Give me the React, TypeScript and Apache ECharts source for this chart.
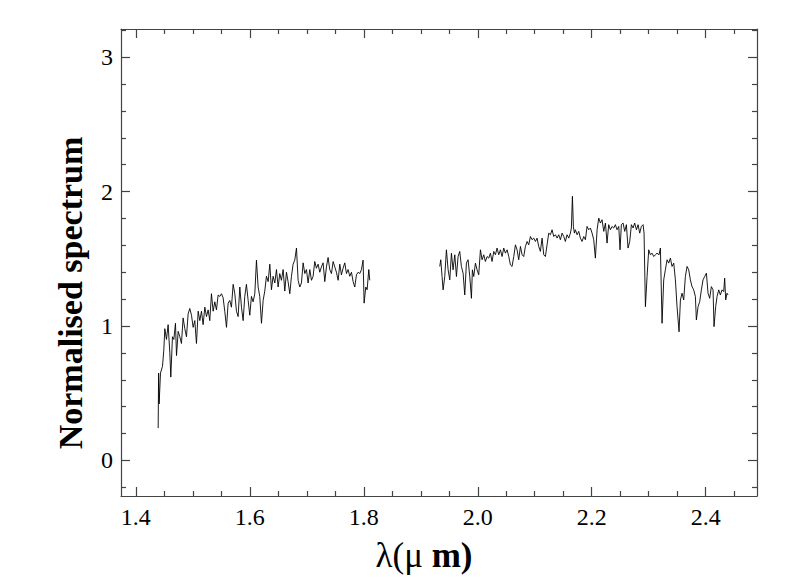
import React, { useEffect, useRef } from "react";
import * as echarts from "echarts";

const X_MIN = 1.374;
const X_MAX = 2.49;
const Y_MIN = -0.265;
const Y_MAX = 3.21;

const xMajor = [1.4, 1.6, 1.8, 2.0, 2.2, 2.4];
const xMinor = [1.45, 1.5, 1.55, 1.65, 1.7, 1.75, 1.85, 1.9, 1.95, 2.05, 2.1, 2.15, 2.25, 2.3, 2.35, 2.45];
const yMajor = [0, 1, 2, 3];
const yMinor = [-0.2, 0.2, 0.4, 0.6, 0.8, 1.2, 1.4, 1.6, 1.8, 2.2, 2.4, 2.6, 2.8, 3.2];

// Segment 1 (H band)
const wave1 = [
  1.4392, 1.4400, 1.4409, 1.4433, 1.4468, 1.4491, 1.4509, 1.4538, 1.4567, 1.4597,
  1.4614, 1.4643, 1.4667, 1.4696, 1.4714, 1.4743, 1.4772, 1.4801, 1.4830, 1.4860,
  1.4889, 1.4918, 1.4947, 1.4977, 1.5006, 1.5035, 1.5064, 1.5094, 1.5123, 1.5152,
  1.5181, 1.5211, 1.5240, 1.5269, 1.5298, 1.5327, 1.5357, 1.5386, 1.5415, 1.5444,
  1.5474, 1.5503, 1.5532, 1.5561, 1.5591, 1.5620, 1.5649, 1.5678, 1.5708, 1.5737,
  1.5766, 1.5795, 1.5825, 1.5854, 1.5883, 1.5912, 1.5941, 1.5971, 1.6000, 1.6029,
  1.6058, 1.6088, 1.6117, 1.6146, 1.6175, 1.6205, 1.6234, 1.6263, 1.6292, 1.6322,
  1.6351, 1.6380, 1.6409, 1.6439, 1.6468, 1.6497, 1.6526, 1.6555, 1.6585, 1.6614,
  1.6643, 1.6672, 1.6702, 1.6731, 1.6760, 1.6789, 1.6819, 1.6848, 1.6877, 1.6906,
  1.6936, 1.6965, 1.6994, 1.7023, 1.7053, 1.7082, 1.7111, 1.7140, 1.7169, 1.7199,
  1.7228, 1.7257, 1.7286, 1.7316, 1.7345, 1.7374, 1.7403, 1.7433, 1.7462, 1.7491,
  1.7520, 1.7550, 1.7579, 1.7608, 1.7637, 1.7667, 1.7696, 1.7725, 1.7754, 1.7784,
  1.7813, 1.7842, 1.7871, 1.7901, 1.7930, 1.7959, 1.7988, 1.8006, 1.8035, 1.8059,
  1.8088, 1.8105,
];
const flux1 = [
  0.24, 0.65, 0.42, 0.65, 0.70, 0.82, 0.98, 0.90, 1.01, 0.80,
  0.62, 0.92, 0.90, 1.02, 0.78, 0.96, 0.92, 0.87, 1.06, 0.98,
  0.92, 1.09, 1.13, 1.08, 0.99, 1.04, 0.87, 1.11, 1.04, 1.11,
  1.01, 1.14, 1.07, 1.12, 1.04, 1.24, 1.11, 1.18, 1.12, 1.23,
  1.22, 1.24, 1.21, 1.11, 0.99, 1.17, 1.19, 1.14, 1.31, 1.24,
  1.11, 1.07, 1.29, 1.14, 1.04, 1.22, 1.31, 1.19, 1.08, 1.22,
  1.18, 1.24, 1.49, 1.29, 1.22, 1.02, 1.19, 1.26, 1.37, 1.33,
  1.46, 1.27, 1.37, 1.32, 1.42, 1.29, 1.39, 1.34, 1.42, 1.26,
  1.40, 1.33, 1.24, 1.37, 1.46, 1.49, 1.58, 1.34, 1.29, 1.32,
  1.47, 1.39, 1.42, 1.32, 1.42, 1.34, 1.37, 1.48, 1.43, 1.46,
  1.40, 1.44, 1.47, 1.33, 1.44, 1.51, 1.42, 1.39, 1.48, 1.44,
  1.40, 1.34, 1.46, 1.38, 1.43, 1.47, 1.39, 1.42, 1.37, 1.40,
  1.33, 1.29, 1.38, 1.40, 1.39, 1.42, 1.49, 1.17, 1.29, 1.27,
  1.42, 1.34,
];

// Segment 2 (K band)
const wave2 = [
  1.9333, 1.9351, 1.9374, 1.9392, 1.9421, 1.9450, 1.9480, 1.9509, 1.9538, 1.9567,
  1.9597, 1.9626, 1.9655, 1.9684, 1.9713, 1.9743, 1.9772, 1.9801, 1.9830, 1.9860,
  1.9889, 1.9906, 1.9930, 1.9959, 1.9988, 2.0017, 2.0047, 2.0076, 2.0105, 2.0134,
  2.0164, 2.0193, 2.0222, 2.0251, 2.0281, 2.0310, 2.0339, 2.0368, 2.0398, 2.0427,
  2.0456, 2.0485, 2.0515, 2.0544, 2.0573, 2.0602, 2.0632, 2.0661, 2.0690, 2.0719,
  2.0749, 2.0778, 2.0807, 2.0836, 2.0866, 2.0895, 2.0924, 2.0953, 2.0982, 2.1012,
  2.1041, 2.1070, 2.1099, 2.1129, 2.1158, 2.1187, 2.1216, 2.1246, 2.1275, 2.1304,
  2.1333, 2.1363, 2.1392, 2.1421, 2.1450, 2.1480, 2.1509, 2.1538, 2.1567, 2.1597,
  2.1626, 2.1643, 2.1661, 2.1678, 2.1696, 2.1713, 2.1743, 2.1772, 2.1801, 2.1830,
  2.1860, 2.1889, 2.1918, 2.1947, 2.1977, 2.2006, 2.2035, 2.2064, 2.2094, 2.2123,
  2.2152, 2.2181, 2.2211, 2.2240, 2.2269, 2.2298, 2.2327, 2.2357, 2.2386, 2.2415,
  2.2444, 2.2474, 2.2497, 2.2520, 2.2550, 2.2579, 2.2608, 2.2637, 2.2667, 2.2696,
  2.2725, 2.2754, 2.2784, 2.2813, 2.2842, 2.2871, 2.2901, 2.2918, 2.2942, 2.2971,
  2.3000, 2.3029, 2.3058, 2.3088, 2.3117, 2.3146, 2.3181, 2.3205, 2.3234, 2.3263,
  2.3292, 2.3322, 2.3351, 2.3380, 2.3409, 2.3439, 2.3468, 2.3497, 2.3532, 2.3556,
  2.3585, 2.3614, 2.3643, 2.3673, 2.3702, 2.3731, 2.3760, 2.3789, 2.3819, 2.3836,
  2.3866, 2.3895, 2.3924, 2.3953, 2.3982, 2.4012, 2.4041, 2.4070, 2.4099, 2.4129,
  2.4146, 2.4175, 2.4199, 2.4228, 2.4257, 2.4287, 2.4316, 2.4333, 2.4351, 2.4374,
  2.4392,
];
const flux2 = [
  1.443, 1.493, 1.368, 1.269, 1.368, 1.567, 1.418, 1.343, 1.542, 1.418,
  1.530, 1.368, 1.517, 1.555, 1.443, 1.393, 1.231, 1.468, 1.493, 1.368,
  1.206, 1.418, 1.368, 1.468, 1.418, 1.381, 1.567, 1.493, 1.530, 1.480,
  1.517, 1.505, 1.542, 1.480, 1.555, 1.530, 1.580, 1.530, 1.567, 1.517,
  1.580, 1.542, 1.567, 1.517, 1.455, 1.443, 1.517, 1.604, 1.567, 1.493,
  1.592, 1.530, 1.517, 1.592, 1.629, 1.604, 1.666, 1.642, 1.654, 1.629,
  1.654, 1.592, 1.555, 1.654, 1.530, 1.517, 1.604, 1.691, 1.679, 1.716,
  1.666, 1.679, 1.654, 1.679, 1.642, 1.691, 1.666, 1.629, 1.679, 1.654,
  1.691, 1.729, 1.965, 1.741, 1.691, 1.716, 1.679, 1.704, 1.654, 1.629,
  1.666, 1.642, 1.741, 1.716, 1.729, 1.691, 1.642, 1.505, 1.716, 1.803,
  1.766, 1.791, 1.704, 1.766, 1.617, 1.754, 1.716, 1.741, 1.729, 1.754,
  1.716, 1.741, 1.567, 1.754, 1.766, 1.704, 1.754, 1.580, 1.629, 1.754,
  1.729, 1.766, 1.716, 1.754, 1.691, 1.741, 1.754, 1.691, 1.144, 1.368,
  1.567, 1.530, 1.542, 1.517, 1.530, 1.542, 1.530, 1.580, 1.020, 1.343,
  1.418, 1.493, 1.468, 1.505, 1.443, 1.468, 1.343, 1.144, 0.957, 1.194,
  1.244, 1.194, 1.368, 1.443, 1.418, 1.343, 1.293, 1.269, 1.219, 1.045,
  1.144, 1.182, 1.269, 1.343, 1.368, 1.393, 1.244, 1.206, 1.293, 1.269,
  0.995, 1.144, 1.219, 1.269, 1.231, 1.269, 1.256, 1.356, 1.194, 1.244,
  1.231,
];

const FONT = "'Liberation Serif', 'Times New Roman', serif";
const AXIS_COLOR = "#444";

function makeX(position: "top" | "bottom", ticks: number[], len: number, labels: boolean, line: boolean) {
  return {
    type: "value",
    position,
    min: X_MIN,
    max: X_MAX,
    axisLine: { show: line, onZero: false, lineStyle: { color: AXIS_COLOR, width: 1.2 } },
    axisTick: { show: true, inside: true, length: len, customValues: ticks, lineStyle: { color: AXIS_COLOR, width: 1.2 } },
    axisLabel: labels
      ? { show: true, customValues: xMajor, formatter: (v: number) => v.toFixed(1), fontFamily: FONT, fontSize: 24, color: "#000", margin: 9 }
      : { show: false },
    splitLine: { show: false },
  };
}

function makeY(position: "left" | "right", ticks: number[], len: number, labels: boolean, line: boolean) {
  return {
    type: "value",
    position,
    min: Y_MIN,
    max: Y_MAX,
    axisLine: { show: line, onZero: false, lineStyle: { color: AXIS_COLOR, width: 1.2 } },
    axisTick: { show: true, inside: true, length: len, customValues: ticks, lineStyle: { color: AXIS_COLOR, width: 1.2 } },
    axisLabel: labels
      ? { show: true, customValues: yMajor, formatter: (v: number) => String(Math.round(v)), fontFamily: FONT, fontSize: 24, color: "#000", margin: 8 }
      : { show: false },
    splitLine: { show: false },
  };
}

export default function App() {
  const ref = useRef<HTMLDivElement>(null);
  useEffect(() => {
    if (!ref.current) return;
    const chart = echarts.init(ref.current, null, { renderer: "svg" });
    const data: any[] = [];
    for (let i = 0; i < wave1.length; i++) data.push([wave1[i], flux1[i]]);
    data.push([1.87, null]);
    for (let i = 0; i < wave2.length; i++) data.push([wave2[i], flux2[i]]);

    chart.setOption({
      animation: false,
      backgroundColor: "#fff",
      grid: { left: 121, right: 53, top: 29, bottom: 83, containLabel: false },
      graphic: [
        {
          type: "text",
          x: 70,
          y: 293,
          rotation: Math.PI / 2,
          style: {
            text: "Normalised spectrum",
            fontFamily: FONT,
            fontSize: 34,
            fontWeight: "bold",
            fill: "#000",
            textAlign: "center",
            textVerticalAlign: "middle",
          },
        },
        {
          type: "text",
          x: 424,
          y: 538,
          style: {
            text: "{r|λ(μ} {b|m)}",
            fontFamily: FONT,
            fontSize: 35,
            fill: "#000",
            textAlign: "center",
            textVerticalAlign: "top",
            rich: {
              r: { fontFamily: FONT, fontSize: 35, fill: "#000" },
              b: { fontFamily: FONT, fontSize: 35, fontWeight: "bold", fill: "#000" },
            },
          },
        },
      ],
      xAxis: [
        makeX("bottom", xMajor, 9, true, true),
        makeX("bottom", xMinor, 5, false, false),
        makeX("top", xMajor, 9, false, true),
        makeX("top", xMinor, 5, false, false),
      ],
      yAxis: [
        makeY("left", yMajor, 9, true, true),
        makeY("left", yMinor, 5, false, false),
        makeY("right", yMajor, 9, false, true),
        makeY("right", yMinor, 5, false, false),
      ],
      series: [
        {
          type: "line",
          xAxisIndex: 0,
          yAxisIndex: 0,
          data,
          showSymbol: false,
          connectNulls: false,
          lineStyle: { color: "#000", width: 0.9 },
          silent: true,
        },
      ],
    });
    return () => chart.dispose();
  }, []);
  return <div ref={ref} style={{ width: 810, height: 579, position: "absolute", left: 0, top: 0 }} />;
}
